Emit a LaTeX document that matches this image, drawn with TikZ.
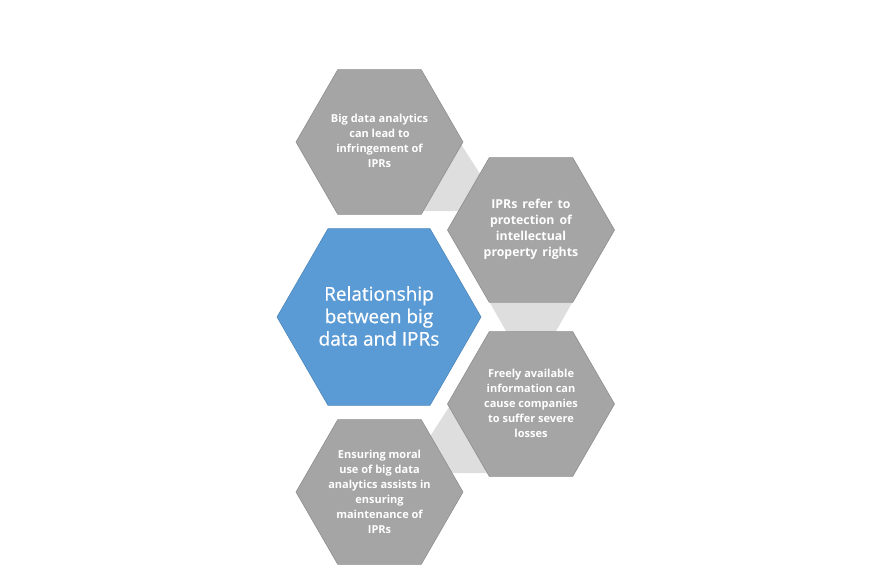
\documentclass[tikz,border=0pt]{standalone}
\usepackage{fontspec}
\setmainfont{Open Sans}
\newfontfamily\centerfont[FakeBold=0.6]{Open Sans}
\newcommand\widespaces{\spaceskip=5pt\relax}
\usetikzlibrary{shapes.geometric,calc}
\definecolor{hexgray}{HTML}{A5A5A5}
\definecolor{hexgrayline}{HTML}{8E8E8E}
\definecolor{hexblue}{HTML}{5B9BD5}
\definecolor{hexblueline}{HTML}{4F87BA}
\definecolor{linkgray}{HTML}{DEDEDE}
\tikzset{
  hexbox/.style={regular polygon, regular polygon sides=6, minimum size=167pt,
    inner sep=0pt, outer sep=0pt, fill=hexgray, draw=hexgrayline, line width=0.6pt},
  bighex/.style={hexbox, minimum size=204pt, fill=hexblue, draw=hexblueline},
  smalltxt/.style={align=center, text=white, font=\fontsize{11}{15}\selectfont\bfseries, inner sep=0pt},
  midtxt/.style={smalltxt, font=\fontsize{12.3}{16}\selectfont\bfseries},
  bigtxt/.style={align=center, text=white, font=\centerfont\fontsize{19}{22.5}\selectfont, inner sep=0pt},
  linktri/.style={fill=linkgray, draw=none}
}
\begin{document}
\begin{tikzpicture}[x=1pt,y=-1pt]
\useasboundingbox (0,0) rectangle (892,584);
\coordinate (ctl) at (379.5,142);
\coordinate (crt) at (531,230);
\coordinate (crb) at (531,404);
\coordinate (cbl) at (379.5,492);
\coordinate (cc) at (379,317);
% linking triangles
\fill[linktri] ($(ctl)+(82,3)$) -- ($(ctl)+(44,69)$) -- ($(ctl)+(124.5,69)$) -- cycle;
\fill[linktri] ($(crt)+(-41,73)$) -- ($(crt)+(41,73)$) -- ($(crt)+(0,145)$) -- cycle;
\fill[linktri] ($(crb)+(-82,3)$) -- ($(crb)+(-124.5,69)$) -- ($(crb)+(-44,69)$) -- cycle;
% hexagons
\node[hexbox] (tl) at (ctl) {};
\node[hexbox] (rt) at (crt) {};
\node[hexbox] (rb) at (crb) {};
\node[hexbox] (bl) at (cbl) {};
\node[bighex] (c) at (cc) {};
% texts
\node[smalltxt] (tltxt) at ($(tl)+(0,-1)$) {Big data analytics\\can lead to\\infringement of\\IPRs};
\node[midtxt] (rttxt) at ($(rt)+(0,-1)$) {\widespaces IPRs refer to\\\widespaces protection of\\intellectual\\\widespaces property rights};
\node[smalltxt] (rbtxt) at ($(rb)+(0,-1)$) {Freely available\\information can\\cause companies\\to suffer severe\\losses};
\node[smalltxt] (bltxt) at ($(bl)+(0,0)$) {Ensuring moral\\use of big data\\analytics assists in\\ensuring\\maintenance of\\IPRs};
\node[bigtxt] (ctxt) at ($(c)+(0,-1)$) {Relationship\\between big\\data and IPRs};
\end{tikzpicture}
\end{document}
